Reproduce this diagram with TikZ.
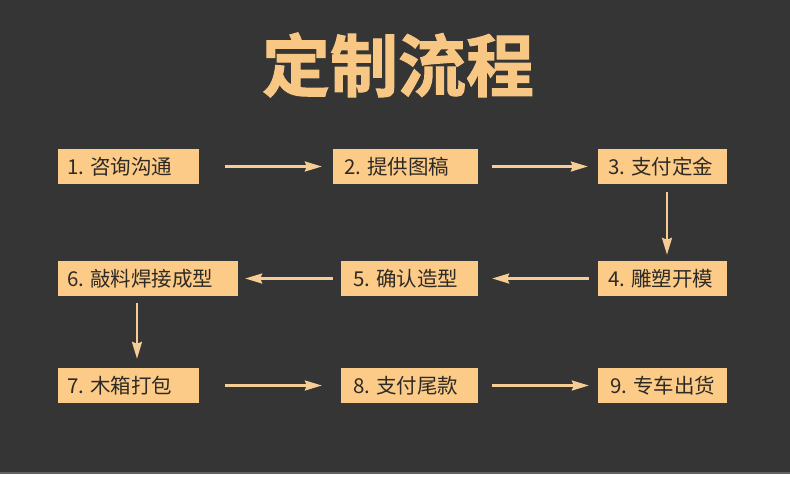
\documentclass[tikz,border=0pt]{standalone}
\usepackage{fontspec}
\newfontfamily\cjk{Noto Sans CJK SC}
\newfontfamily\cjktitle[FakeBold=1.5]{Noto Sans CJK SC Bold}
\usetikzlibrary{arrows.meta}
\definecolor{bgc}{HTML}{353535}
\definecolor{peach}{HTML}{FDCB88}
\definecolor{titlec}{HTML}{F8C784}
\definecolor{txtc}{HTML}{2E2A26}
\definecolor{arrc}{HTML}{F6CD94}
\tikzset{
  box/.style={rectangle, fill=peach, draw=none, minimum height=35pt, inner sep=0pt},
  lbl/.style={anchor=west, inner sep=0pt, text=txtc, font=\cjk\fontsize{20.5pt}{23pt}\selectfont},
  arr/.style={draw=arrc, line width=2.3pt, -{Stealth[length=17pt, width=10pt, inset=2pt]}}
}
\begin{document}
\begin{tikzpicture}[x=1pt, y=-1pt]
\useasboundingbox (0,0) rectangle (790,488);
\fill[white] (0,0) rectangle (790,488);
\fill[bgc] (0,0) rectangle (790,473);
\fill[black!62] (0,472) rectangle (790,473.5);

\node[text=titlec, font=\cjktitle\fontsize{68pt}{72pt}\selectfont, inner sep=0pt] (title) at (398,65) {定制流程};

% row 1
\node[box, minimum width=141pt] (b1) at (128.5,166.5) {};
\node[lbl] (t1) at ([xshift=9pt]b1.west) {1. 咨询沟通};
\node[box, minimum width=145pt] (b2) at (405.5,166.5) {};
\node[lbl] (t2) at ([xshift=11pt]b2.west) {2. 提供图稿};
\node[box, minimum width=129pt] (b3) at (662.5,166.5) {};
\node[lbl] (t3) at ([xshift=10pt]b3.west) {3. 支付定金};

% row 2
\node[box, minimum width=129pt] (b4) at (662.5,278.5) {};
\node[lbl] (t4) at ([xshift=10pt]b4.west) {4. 雕塑开模};
\node[box, minimum width=137pt] (b5) at (409.5,278.5) {};
\node[lbl] (t5) at ([xshift=12pt]b5.west) {5. 确认造型};
\node[box, minimum width=180pt] (b6) at (148,278.5) {};
\node[lbl] (t6) at ([xshift=9pt]b6.west) {6. 敲料焊接成型};

% row 3
\node[box, minimum width=141pt] (b7) at (128.5,385.5) {};
\node[lbl] (t7) at ([xshift=9pt]b7.west) {7. 木箱打包};
\node[box, minimum width=137pt] (b8) at (409.5,385.5) {};
\node[lbl] (t8) at ([xshift=12pt]b8.west) {8. 支付尾款};
\node[box, minimum width=129pt] (b9) at (662.5,385.5) {};
\node[lbl] (t9) at ([xshift=12pt]b9.west) {9. 专车出货};

% connectors
\draw[arr, shorten <=26pt, shorten >=11pt] (b1.east) -- (b2.west);
\draw[arr, shorten <=14pt, shorten >=10pt] (b2.east) -- (b3.west);
\draw[arr, shorten <=8pt, shorten >=6pt] ([xshift=4.5pt]b3.south) -- ([xshift=4.5pt]b4.north);
\draw[arr, shorten <=9pt, shorten >=14pt] (b4.west) -- (b5.east);
\draw[arr, shorten <=8pt, shorten >=7pt] (b5.west) -- (b6.east);
\draw[arr, shorten <=7pt, shorten >=9pt] ([xshift=-11pt]b6.south) -- ([xshift=8.5pt]b7.north);
\draw[arr, shorten <=26pt, shorten >=19pt] (b7.east) -- (b8.west);
\draw[arr, shorten <=14pt, shorten >=9pt] (b8.east) -- (b9.west);
\end{tikzpicture}
\end{document}
